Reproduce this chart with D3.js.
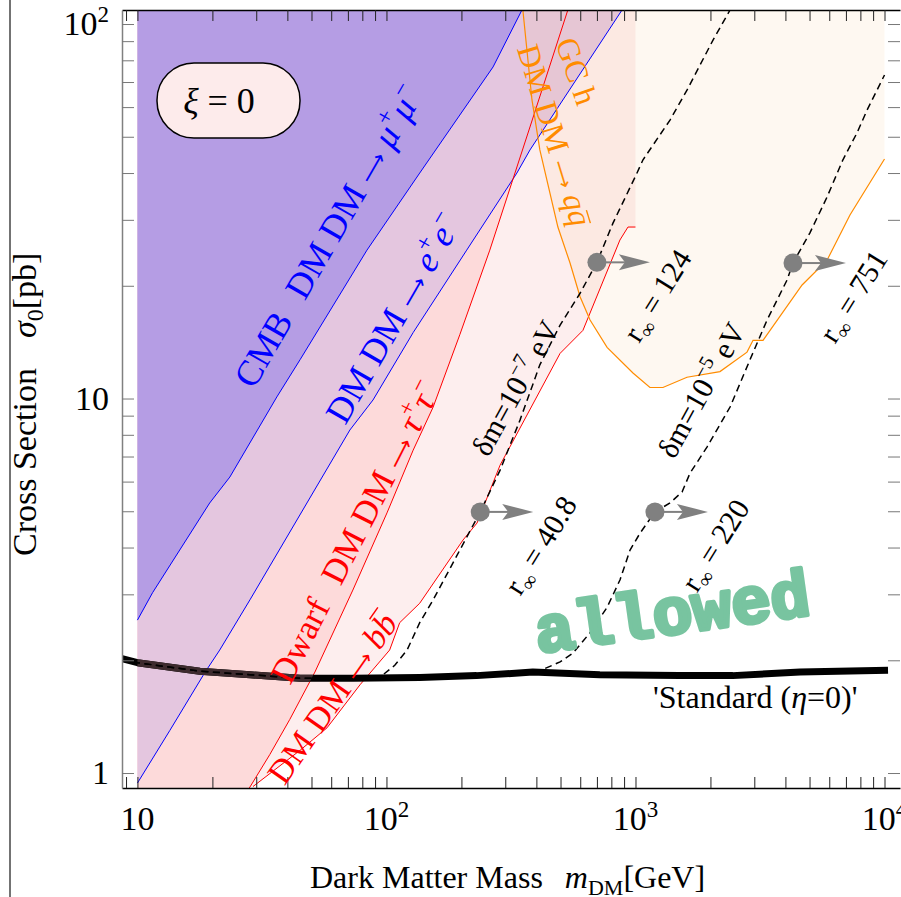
<!DOCTYPE html>
<html lang="en">
<head>
<meta charset="utf-8">
<title>Cross section vs dark matter mass</title>
<script src="https://cdnjs.cloudflare.com/ajax/libs/d3/7.8.5/d3.min.js"></script>
<style>
  body { margin: 0; background: #fff; }
  svg { display: block; font-family: "Liberation Serif", "Times New Roman", serif; }
  text { white-space: pre; }
</style>
</head>
<body>
<script>

// curves, [mass GeV, sigma pb]
var cmbMuMu = [[10,2.56],[11.5,3.03],[19.5,5.26],[23.5,6.17],[36.3,10.1],[45,12.7],
               [83.5,24.9],[136,40],[268,76.8],[350,109]];
var cmbEE = [[10,0.94],[13.5,1.30],[18.7,1.86],[21.4,2.13],[28.3,2.90],[71.3,8.24],
             [88.3,9.91],[128,15.0],[210,24.9],[334,40.0],[377,46.1],[883,109]];
var dwarfTauTau = [[27.8,0.90],[34,1.12],[40.9,1.39],[51.6,1.86],[73.3,3.08],[100.5,4.95],
                   [128,7.28],[154,9.49],[197,14.8],[260,24.9],[377,53.1],[535,109]];
var dwarfBB = [[29.1,0.92],[45,1.15],[57.7,1.32],[78.3,1.72],[103,2.13],[113,2.52],[136,2.84],
               [203,4.19],[231,4.65],[286,6.64],[498,13.2],[615,15.2],[866,26.5],[933,28.7],[1000,28.7]];
var gcQQ = [[353,109],[384,62.7],[413,46.1],[488,28.7],[546,23.0],[599,18.7],[657,16.2],[769,13.7],
            [977,11.7],[1143,10.7],[1289,10.7],[1610,11.4],[2184,11.8],[2805,13.3],[2965,14.3],
            [3252,14.3],[4667,20.1],[5877,23.4],[7266,30.9],[10000,43.6]];
var standard = [[8.67,2.02],[10,1.97],[17.8,1.87],[28.3,1.83],[45,1.79],[73.3,1.79],[136,1.80],
                [230,1.82],[387,1.86],[719,1.83],[1500,1.82],[2460,1.82],[4581,1.86],[10330,1.88]];
var deltaM7 = [[8.67,2.02],[10,1.97],[17.8,1.87],[28.3,1.83],[45,1.79],[73.3,1.79],[94,1.80],
               [108,1.94],[121,2.13],[136,2.52],[154,2.90],[185,3.64],[238,4.98],[286,6.44],
               [344,8.77],[413,12.3],[498,15.7],[599,19.1],[700,23.1],[812,29.4],[1014,40.0],
               [1072,43.4],[1376,55.4],[1610,66.6],[2048,90.6],[2398,109]];
var deltaM5 = [[8.67,2.02],[10,1.97],[17.8,1.87],[28.3,1.83],[45,1.79],[73.3,1.79],[136,1.80],
               [230,1.82],[402,1.86],[498,1.98],[561,2.09],[657,2.37],[769,2.77],[867,3.28],
               [951,3.94],[1043,4.37],[1197,4.98],[1376,5.26],[1538,5.63],[1656,6.32],[1937,7.42],
               [2398,9.49],[2884,12.7],[3375,16.2],[4058,20.7],[4290,23.0],[5018,27.7],[5877,34.5],
               [6808,43.4],[7755,51.2],[8511,58.9],[10000,73.1]];

// marker points with their r_inf values
var markerPts = [[238,4.98],[700,23.1],[1197,4.98],[4290,23.0]];
var markerR = ["40.8","124","220","751"];

var xTickLabels = [10, 100, 1000, 10000];
var yTickLabels = [1, 10, 100];
var fillStart = 10;     // exclusion fills start at 10 GeV
var bbEnd = 1000;       // dwarf bb band stops at 1 TeV

// layout
var W = 901, H = 897;
var pL = 122, pR = 900, pT = 10, pB = 788;

var x = d3.scaleLog().domain([8.67, 11540]).range([pL, pR]);
var y = d3.scaleLog().domain([0.912, 109]).range([pB, pT]);
var yLo = y.domain()[0], yHi = y.domain()[1];

var svg = d3.select("body").append("svg").attr("width", W).attr("height", H);
var defs = svg.append("defs");
defs.append("clipPath").attr("id", "plot").append("rect")
    .attr("x", pL).attr("y", pT).attr("width", pR - pL).attr("height", pB - pT);

var line = d3.line().x(function(d) { return x(d[0]); }).y(function(d) { return y(d[1]); });
function rev(a) { return a.slice().reverse(); }

// rotated annotation helper
function label(cx, cy, ang, fs, color, parts) {
  var g = svg.append("g")
    .attr("transform", "translate(" + cx + "," + cy + ") rotate(" + ang + ")");
  var t = g.append("text")
    .attr("text-anchor", "middle").attr("y", fs * 0.35)
    .attr("font-size", fs).attr("fill", color);
  var shift = 0, idx = 0, overs = [];
  parts.forEach(function(p) {
    var s = p.sup ? -0.42 * fs : (p.sub ? 0.22 * fs : 0);
    var ts = t.append("tspan").text(p.t).attr("dy", s - shift);
    shift = s;
    if (p.sup || p.sub) ts.attr("font-size", fs * 0.68);
    if (p.i) ts.attr("font-style", "italic");
    if (p.dx) ts.attr("dx", p.dx);
    if (p.arrow) ts.attr("font-family", "'DejaVu Sans', sans-serif").attr("font-size", fs * 0.62);
    if (p.over) overs.push([idx, p.over]);
    idx += p.t.length;
  });
  overs.forEach(function(o) {
    var r = t.node().getExtentOfChar(o[0]);
    var yy = r.y + r.height * o[1];
    g.append("line").attr("x1", r.x + r.width * 0.2).attr("x2", r.x + r.width * 1.05)
     .attr("y1", yy).attr("y2", yy).attr("stroke", color).attr("stroke-width", 1.4);
  });
  return g;
}

// outer border line at far left
svg.append("line").attr("x1", 10).attr("x2", 10).attr("y1", 0).attr("y2", H)
   .attr("stroke", "#444").attr("stroke-width", 1.5);

var plot = svg.append("g").attr("clip-path", "url(#plot)");

// regions
var tauRegion = [[fillStart, yHi]].concat(rev(dwarfTauTau), [[fillStart, yLo]]);
var bbRegion = [[fillStart, yHi], [bbEnd, yHi]].concat(rev(dwarfBB), [[fillStart, yLo]]);
var eeRegion = [[fillStart, yHi]].concat(rev(cmbEE));
var muRegion = [[fillStart, yHi]].concat(rev(cmbMuMu));
var gcRegion = gcQQ.concat([[10000, yHi]]);

defs.append("clipPath").attr("id", "tauclip").append("path").attr("d", line(tauRegion) + "Z");

plot.append("path").attr("d", line(bbRegion) + "Z").attr("fill", "#fdeeee");
plot.append("path").attr("d", line(tauRegion) + "Z").attr("fill", "#fddada");
plot.append("path").attr("d", line(eeRegion) + "Z").attr("fill", "#e4c6df");
plot.append("path").attr("d", line(muRegion) + "Z").attr("fill", "#b59de4");
plot.append("path").attr("d", line(gcRegion) + "Z").attr("fill", "#f5c48c").attr("fill-opacity", 0.12);

// boundary lines
plot.append("path").attr("d", line(cmbMuMu)).attr("fill", "none").attr("stroke", "#0000ff").attr("stroke-width", 1);
plot.append("path").attr("d", line(cmbEE)).attr("fill", "none").attr("stroke", "#0000ff").attr("stroke-width", 1);
plot.append("path").attr("d", line(dwarfTauTau)).attr("fill", "none").attr("stroke", "#ff0000").attr("stroke-width", 1);
plot.append("path").attr("d", line(dwarfBB)).attr("fill", "none").attr("stroke", "#ff0000").attr("stroke-width", 1);
plot.append("path").attr("d", line(gcQQ)).attr("fill", "none").attr("stroke", "#ff8c00").attr("stroke-width", 1.2);

// standard curve, tinted where the exclusion fills lie over it
plot.append("path").attr("d", line(standard)).attr("fill", "none")
    .attr("stroke", "#000").attr("stroke-width", 7).attr("stroke-linejoin", "round");
plot.append("g").attr("clip-path", "url(#tauclip)").append("path").attr("d", line(standard))
    .attr("fill", "none").attr("stroke", "#3d2b2e").attr("stroke-width", 7);

// dashed curves
[deltaM7, deltaM5].forEach(function(c) {
  plot.append("path").attr("d", line(c)).attr("fill", "none")
      .attr("stroke", "#000").attr("stroke-width", 1.5).attr("stroke-dasharray", "7,4.5");
});

// markers + arrows
var mk = svg.append("g");
markerPts.forEach(function(p, i) {
  var cx = x(p[0]), cy = y(p[1]);
  mk.append("line").attr("x1", cx).attr("y1", cy).attr("x2", cx + 28).attr("y2", cy)
    .attr("stroke", "#808080").attr("stroke-width", 2);
  mk.append("path").attr("d", "M" + (cx + 53) + "," + cy + "L" + (cx + 22) + "," + (cy - 8) +
      "L" + (cx + 28) + "," + cy + "L" + (cx + 22) + "," + (cy + 8) + "Z").attr("fill", "#808080");
  mk.append("circle").attr("cx", cx).attr("cy", cy).attr("r", 9.5).attr("fill", "#808080");
  label(cx + 60, cy + 33, -58, 30, "#000",
        [{t: "r"}, {t: "∞", sub: 1}, {t: " = " + markerR[i]}]);
});

// axes
var xTicks = [9].concat(d3.range(10, 101, 10), d3.range(200, 1001, 100), d3.range(2000, 10001, 1000));
var yTicks = d3.range(1, 10).concat(d3.range(10, 101, 10));

var gB = svg.append("g").attr("transform", "translate(0," + pB + ")")
  .call(d3.axisBottom(x).tickValues(xTicks).tickSize(-11).tickSizeOuter(0).tickFormat(""));
var gT = svg.append("g").attr("transform", "translate(0," + pT + ")")
  .call(d3.axisTop(x).tickValues(xTicks).tickSize(-11).tickSizeOuter(0).tickFormat(""));
var gL = svg.append("g").attr("transform", "translate(" + pL + ",0)")
  .call(d3.axisLeft(y).tickValues(yTicks).tickSize(-12).tickSizeOuter(0).tickFormat(""));
var gR = svg.append("g").attr("transform", "translate(" + pR + ",0)")
  .call(d3.axisRight(y).tickValues(yTicks).tickSize(-12).tickSizeOuter(0).tickFormat(""));
[gB, gT].forEach(function(g) {
  g.select(".domain").attr("stroke", "#000").attr("stroke-width", 1.3);
  g.selectAll(".tick line").attr("stroke", "#222");
});
gL.select(".domain").attr("stroke", "#808080").attr("stroke-width", 1.5);
gR.select(".domain").remove();
[gL, gR].forEach(function(g) { g.selectAll(".tick line").attr("stroke", "#777"); });

// tick labels
xTickLabels.forEach(function(v) {
  var e = Math.round(Math.log10(v));
  var t = svg.append("text").attr("x", x(v)).attr("y", 830).attr("font-size", 34)
    .attr("text-anchor", "middle").text("10");
  if (e > 1) t.append("tspan").attr("dy", -13).attr("font-size", 23).text(e);
});
yTickLabels.forEach(function(v) {
  var e = Math.round(Math.log10(v));
  var t = svg.append("text").attr("x", 109).attr("y", y(v) + 11).attr("font-size", 34)
    .attr("text-anchor", "end").text(e === 0 ? "1" : "10");
  if (e > 1) t.append("tspan").attr("dy", -13).attr("font-size", 23).text(e);
});

// axis titles
var xt = svg.append("text").attr("x", 310).attr("y", 888).attr("font-size", 32);
xt.append("tspan").text("Dark Matter Mass");
xt.append("tspan").attr("dx", 22).attr("font-style", "italic").text("m");
xt.append("tspan").attr("dy", 7).attr("font-size", 22).text("DM");
xt.append("tspan").attr("dy", -7).text("[GeV]");

var yt = svg.append("text").attr("transform", "translate(36,556) rotate(-90)").attr("font-size", 34);
yt.append("tspan").text("Cross Section");
yt.append("tspan").attr("dx", 30).attr("font-style", "italic").text("σ");
yt.append("tspan").attr("dy", 7).attr("font-size", 24).text("0");
yt.append("tspan").attr("dy", -7).text("[pb]");

label(328, 236, -60, 36, "#0000ff",
  [{t: "CMB"}, {t: "DM DM ", dx: 22}, {t: "⟶", arrow: 1}, {t: " "}, {t: "μ", i: 1}, {t: "+", sup: 1}, {t: "μ", i: 1}, {t: "−", sup: 1}]);
label(393, 318, -60, 36, "#0000ff",
  [{t: "DM DM "}, {t: "⟶", arrow: 1}, {t: " "}, {t: "e", i: 1}, {t: "+", sup: 1}, {t: "e", i: 1}, {t: "−", sup: 1}]);
label(355, 532, -63, 35, "#ff0000",
  [{t: "Dwarf"}, {t: "DM DM ", dx: 22}, {t: "⟶", arrow: 1}, {t: " "}, {t: "τ", i: 1}, {t: "+", sup: 1}, {t: "τ", i: 1}, {t: "−", sup: 1}]);
label(332, 698, -55, 34, "#ff0000",
  [{t: "DM DM "}, {t: "⟶", arrow: 1}, {t: " "}, {t: "b", i: 1}, {t: "b", i: 1, over: 0.1}]);
label(577, 71, 71, 32, "#ff8c00", [{t: "GC h"}]);
label(555, 135, 73, 32, "#ff8c00",
  [{t: "DM DM "}, {t: "⟶", arrow: 1}, {t: " "}, {t: "q", i: 1}, {t: "q", i: 1, over: 0.27}]);
label(515, 388, -61, 30, "#000", [{t: "δm=10"}, {t: "−7", sup: 1}, {t: " eV"}]);
label(701, 390, -61, 30, "#000", [{t: "δm=10"}, {t: "−5", sup: 1}, {t: " eV"}]);

// xi box
svg.append("rect").attr("x", 157).attr("y", 63).attr("width", 143).attr("height", 75)
   .attr("rx", 37).attr("fill", "#fdebeb").attr("stroke", "#000").attr("stroke-width", 1.5);
var xi = svg.append("text").attr("x", 219).attr("y", 113).attr("font-size", 36).attr("text-anchor", "middle");
xi.append("tspan").attr("font-style", "italic").text("ξ");
xi.append("tspan").text(" = 0");

// standard label
var st = svg.append("text").attr("x", 653).attr("y", 708).attr("font-size", 32);
st.append("tspan").text("'Standard (");
st.append("tspan").attr("font-style", "italic").text("η");
st.append("tspan").text("=0)'");

// allowed
svg.append("text").attr("transform", "translate(672,612) rotate(-8)")
   .attr("text-anchor", "middle").attr("y", 22)
   .attr("font-family", "'Liberation Mono', 'Courier New', monospace")
   .attr("font-weight", "bold").attr("font-size", 66)
   .attr("fill", "#78c4a0").attr("stroke", "#78c4a0").attr("stroke-width", 4)
   .attr("stroke-linejoin", "round")
   .text("allowed");

</script>
</body>
</html>
